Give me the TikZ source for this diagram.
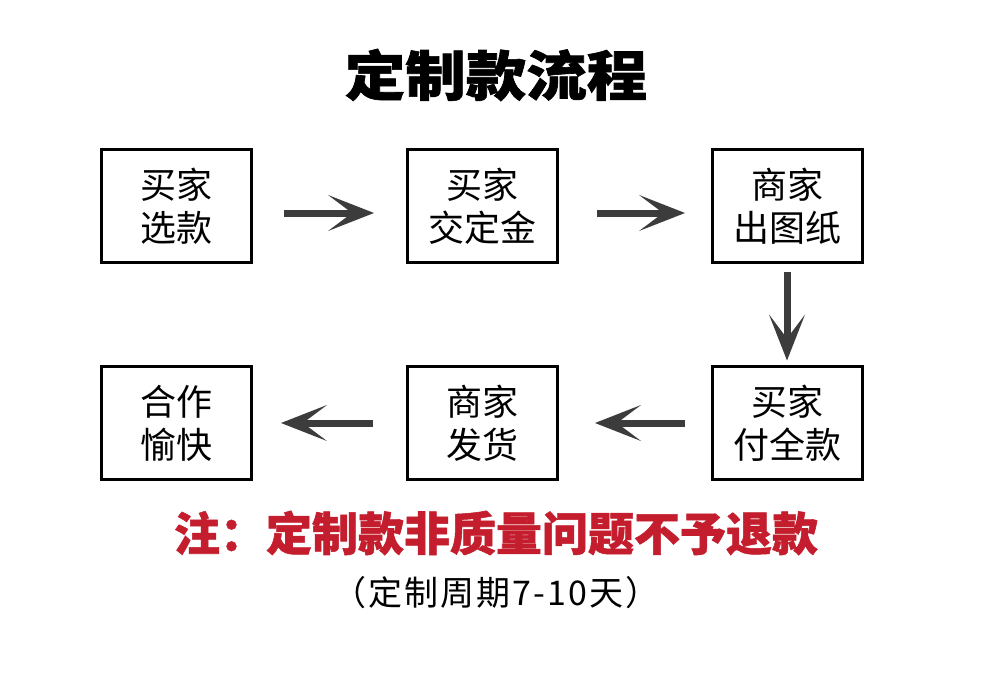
\documentclass[tikz,border=0pt]{standalone}
\usepackage{fontspec}
\newfontfamily\cjk{Noto Sans CJK SC}[BoldFeatures={FakeBold=1.2}]
\newfontfamily\cjkwide{Noto Sans CJK SC}[LetterSpace=6]
\usetikzlibrary{arrows.meta}
\definecolor{arrgray}{HTML}{3C3C3C}
\definecolor{notered}{HTML}{C41E2E}
\tikzset{
  stepbox/.style={draw=black, line width=3pt, minimum width=150pt, minimum height=113pt,
    inner sep=0pt, outer sep=0pt, align=center,
    font=\cjk\fontsize{36}{43}\selectfont},
  flow/.style={draw=arrgray, line width=7pt,
    -{Stealth[length=46pt,width=36pt,inset=24pt,line width=0pt]}},
}
\begin{document}
\begin{tikzpicture}[x=1pt,y=-1pt]
\fill[white] (0,0) rectangle (990,682);
\useasboundingbox (0,0) rectangle (990,682);

\node[font=\cjk\bfseries\fontsize{54}{54}\selectfont, xscale=1.12] (title) at (496,75) {定制款流程};

\node[stepbox] (b1) at (176,206) {买家\\选款};
\node[stepbox] (b2) at (482,206) {买家\\交定金};
\node[stepbox] (b3) at (787,206) {商家\\出图纸};
\node[stepbox] (b4) at (176,423) {合作\\愉快};
\node[stepbox] (b5) at (482,423) {商家\\发货};
\node[stepbox] (b6) at (787,423) {买家\\付全款};

\draw[flow, shorten <=33pt, shorten >=33pt] ([yshift=-7pt]b1.east) -- ([yshift=-7pt]b2.west);
\draw[flow, shorten <=40pt, shorten >=27pt] ([yshift=-7pt]b2.east) -- ([yshift=-7pt]b3.west);
\draw[flow, shorten <=9pt, shorten >=6pt] (b3.south) -- (b6.north);
\draw[flow, shorten <=27pt, shorten >=38pt] (b6.west) -- (b5.east);
\draw[flow, shorten <=34pt, shorten >=30pt] (b5.west) -- (b4.east);

\node[font=\cjk\bfseries\fontsize{46}{46}\selectfont, text=notered] (note) at (496,533) {注：定制款非质量问题不予退款};
\node[font=\cjkwide\fontsize{34}{34}\selectfont] (cycle) at (496,593) {（定制周期7-10天）};
\end{tikzpicture}
\end{document}
